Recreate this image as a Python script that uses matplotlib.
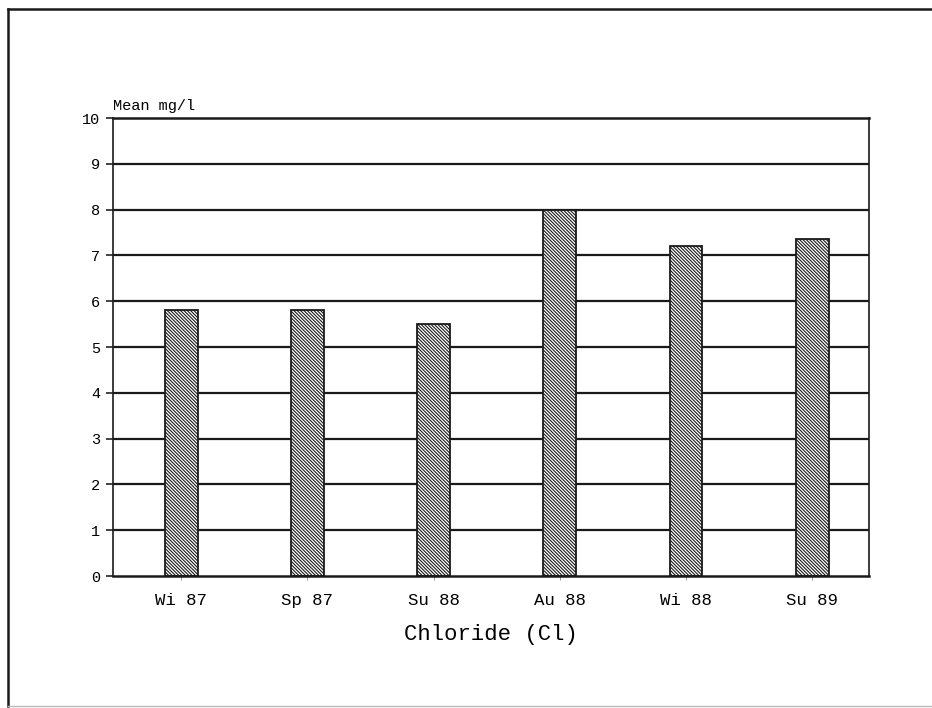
import matplotlib
matplotlib.use("Agg")
import matplotlib.pyplot as plt
from matplotlib.lines import Line2D

# Seasonal chloride means
seasons = ["Wi 87", "Sp 87", "Su 88", "Au 88", "Wi 88", "Su 89"]
chloride_mean = [5.8, 5.8, 5.5, 8.0, 7.2, 7.35]
y_ticks = [0, 1, 2, 3, 4, 5, 6, 7, 8, 9, 10]

mono = "Liberation Mono"
plt.rcParams["hatch.linewidth"] = 0.8
plt.rcParams["hatch.color"] = "#2a2a2a"

fig = plt.figure(figsize=(9.32, 7.08), dpi=100)
fig.patch.set_facecolor("white")
ax = fig.add_axes([0.1212, 0.1864, 0.8112, 0.6469])

# horizontal rules at every unit, drawn behind the bars
for y in y_ticks[1:-1]:
    ax.axhline(y, color="#1a1a1a", linewidth=1.6, zorder=1)

x = list(range(len(seasons)))
ax.bar(x, chloride_mean, width=0.26, facecolor="white", edgecolor="#1a1a1a",
       linewidth=1.3, hatch="\\" * 10, zorder=3)

ax.set_xlim(-0.54, 5.45)
ax.set_ylim(0, 10)
ax.set_yticks(y_ticks)
ax.set_yticklabels([str(v) for v in y_ticks], fontfamily=mono, fontsize=11)
ax.set_xticks(x)
ax.set_xticklabels(seasons, fontfamily=mono, fontsize=12.5)
ax.tick_params(axis="y", direction="out", length=5, width=1.2, pad=4, color="#222222")
ax.tick_params(axis="x", direction="out", length=3, width=0.6, pad=9, color="#888888")

for side in ["left", "right", "top", "bottom"]:
    ax.spines[side].set_color("#1a1a1a")
    ax.spines[side].set_zorder(4)
ax.spines["left"].set_linewidth(1.2)
ax.spines["right"].set_linewidth(1.2)
ax.spines["top"].set_linewidth(1.8)
ax.spines["bottom"].set_linewidth(1.8)

ax.set_xlabel("Chloride (Cl)", fontfamily=mono, fontsize=16, labelpad=12)
ax.text(0.0, 1.012, "Mean mg/l", transform=ax.transAxes, fontfamily=mono,
        fontsize=11, ha="left", va="bottom")

# page frame around the figure
W, H = 932.0, 708.0
frame = dict(color="#1a1a1a", linewidth=1.8, transform=fig.transFigure)
fig.add_artist(Line2D([8 / W, 8 / W], [1 - 9 / H, 1 - 706 / H], **frame))
fig.add_artist(Line2D([8 / W, 931 / W], [1 - 9 / H, 1 - 9 / H], **frame))
fig.add_artist(Line2D([8 / W, 931 / W], [1 - 706 / H, 1 - 706 / H],
                      color="#bbbbbb", linewidth=1.0, transform=fig.transFigure))

fig.savefig("out.png", dpi=100, facecolor="white")
